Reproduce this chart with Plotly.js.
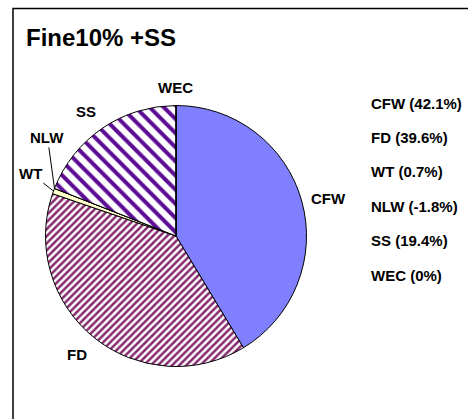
<!DOCTYPE html>
<html>
<head>
<meta charset="utf-8">
<script src="https://cdn.plot.ly/plotly-3.0.1.min.js"></script>
<style>
  html, body { margin: 0; padding: 0; background: #fff; }
  #chart { width: 468px; height: 419px; }
</style>
</head>
<body>
<div id="chart"></div>
<script>
// slice data, clockwise from 12 o'clock
const labels = ['CFW', 'FD', 'WT', 'NLW', 'SS', 'WEC'];
const values = [42.1, 39.6, 0.7, -1.8, 19.4, 0];

const W = 468, H = 419;
const FONT = 'Liberation Sans, Arial, sans-serif';

// pie placement (pixels)
const cx = 176, cy = 236, R = 130.5;
const domain = {
  x: [(cx - R) / W, (cx + R) / W],
  y: [1 - (cy + R) / H, 1 - (cy - R) / H]
};

// negative shares get no wedge
const pieValues = values.map(v => Math.max(v, 0));
const total = pieValues.reduce((a, b) => a + b, 0);

// leader-line offsets (px) for the tiny slices
const leaders = { WT: [-23, -18], NLW: [-7, -51] };

const px = x => x / W;
const py = y => 1 - y / H;

const annotations = [];
let cum = 0;
labels.forEach((lab, i) => {
  const v = pieValues[i];
  const a0 = cum / total * 2 * Math.PI;
  cum += v;
  const a1 = cum / total * 2 * Math.PI;
  const mid = (a0 + a1) / 2;
  const ux = Math.sin(mid), uy = -Math.cos(mid);
  const font = { family: FONT, size: 15, color: '#000', weight: 'bold' };

  if (leaders[lab]) {
    annotations.push({
      xref: 'paper', yref: 'paper',
      x: px(cx + ux * R), y: py(cy + uy * R),
      text: lab, font,
      showarrow: true, arrowhead: 0, arrowwidth: 1, arrowcolor: '#000',
      standoff: 0, ax: leaders[lab][0], ay: leaders[lab][1]
    });
  } else {
    const d = R + 8;
    annotations.push({
      xref: 'paper', yref: 'paper',
      x: px(cx + ux * d), y: py(cy + uy * d),
      text: lab, font, showarrow: false,
      xanchor: ux > 0.3 ? 'left' : (ux < -0.3 ? 'right' : 'center'),
      yanchor: uy > 0.3 ? 'top' : (uy < -0.3 ? 'bottom' : 'middle')
    });
  }
});

// text-only legend on the right
labels.forEach((lab, i) => {
  annotations.push({
    xref: 'paper', yref: 'paper',
    x: px(369), y: py(103 + i * 34.4),
    xanchor: 'left', yanchor: 'middle',
    text: `${lab} (${values[i]}%)`,
    font: { family: FONT, size: 15, color: '#000', weight: 'bold' },
    showarrow: false
  });
});

const trace = {
  type: 'pie',
  labels,
  values: pieValues,
  sort: false,
  direction: 'clockwise',
  rotation: 0,
  domain,
  textinfo: 'none',
  hoverinfo: 'none',
  showlegend: false,
  marker: {
    colors: ['#8080ff', '#ffffff', '#ffffcc', '#ffffff', '#ffffff', '#ffffff'],
    line: { color: '#000', width: 1 },
    pattern: {
      shape: ['', '/', '', '', '\\', ''],
      fgcolor: ['#8080ff', '#862a6e', '#ffffcc', '#fff', '#5c0c94', '#fff'],
      bgcolor: ['#8080ff', '#ffffff', '#ffffcc', '#fff', '#ffffff', '#fff'],
      size: [8, 5, 8, 8, 10, 8],
      solidity: [0.3, 0.5, 0.3, 0.3, 0.4, 0.3]
    }
  }
};

Plotly.newPlot('chart', [trace], {
  width: W,
  height: H,
  margin: { l: 0, r: 0, t: 0, b: 0 },
  paper_bgcolor: '#fff',
  title: {
    text: 'Fine10% +SS',
    xref: 'paper', yref: 'paper',
    x: px(26), xanchor: 'left',
    y: py(38), yanchor: 'middle',
    font: { family: FONT, size: 24, color: '#000', weight: 'bold' }
  },
  shapes: [{
    type: 'path', xref: 'paper', yref: 'paper',
    path: `M ${px(13)} -0.1 L ${px(13)} ${py(8.5)} L 1.1 ${py(8.5)}`,
    line: { color: '#000', width: 1.5 }
  }],
  annotations
}, { displayModeBar: false, staticPlot: true });
</script>
</body>
</html>
